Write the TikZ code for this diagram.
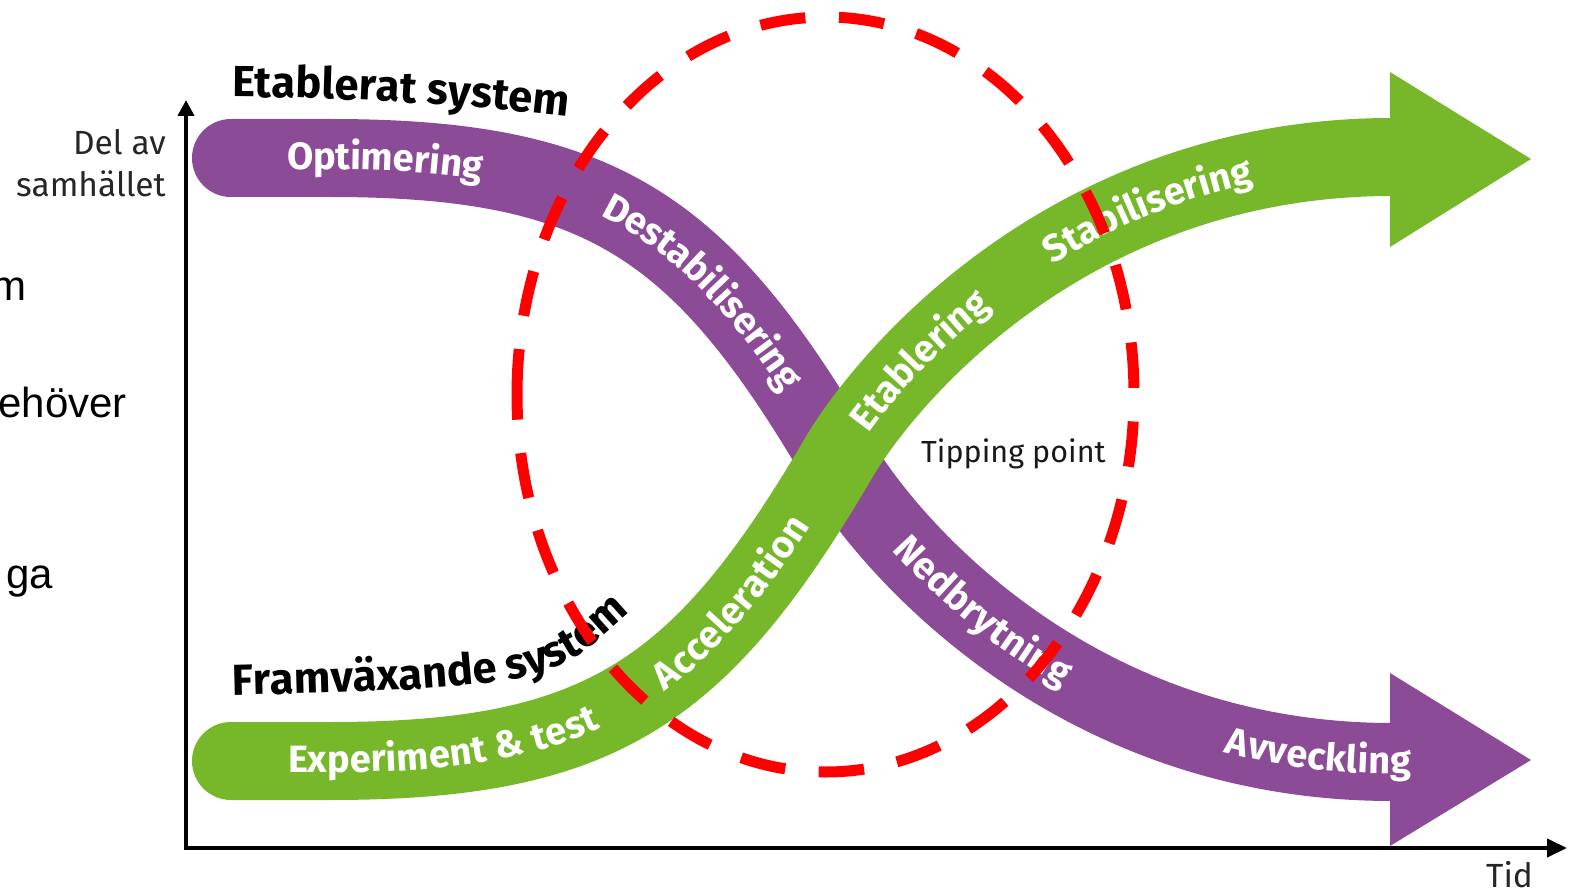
\documentclass[tikz,border=0pt]{standalone}
\usepackage{fontspec}
\setmainfont{Fira Sans}
\newfontfamily\arialfont{Liberation Sans}
\usetikzlibrary{decorations.text,arrows.meta}
\definecolor{bandpurple}{RGB}{139,75,150}
\definecolor{bandgreen}{RGB}{118,184,42}
\definecolor{dashred}{RGB}{255,0,0}
\newcommand{\bandlab}{\fontsize{38}{46}\selectfont\bfseries}
\newcommand{\headlab}{\fontsize{43.5}{50}\selectfont\bfseries}
\begin{document}
\begin{tikzpicture}[x=1pt,y=-1pt,
  band/.style={line width=78pt, line cap=round},
  bandlabel/.style 2 args={decorate, decoration={text along path, text color=white, raise=-11.5pt,
      text={|\bandlab|#1}, text align={left indent=#2pt}}},
  headlabel/.style={decorate, decoration={text along path, text color=black,
      text={|\headlab|#1}}},
  axislabel/.style={font=\fontsize{33.5}{40}\selectfont, text=black!85, inner sep=0pt},
  cuttext/.style={font=\arialfont\fontsize{42}{48}\selectfont, text=black, inner sep=0pt, anchor=base east},
  axisline/.style={line width=4pt, black},
  circlestyle/.style={line width=11pt, dashred, dash pattern=on 45.5pt off 33.6pt, dash phase=0pt}
]
\useasboundingbox (0,0) rectangle (1574,893);

% left cut-off text
\node[cuttext] (cutm) at (27,301) {m};
\node[cuttext] (cuthov) at (127,417) {ehöver};
\node[cuttext] (cutga) at (53,588) {ga};

% purple band (established system)
\draw[band, bandpurple] (231,158) -- (330,158) .. controls (600,158) and (700,225) .. (838,460)
  .. controls (886,542) and (1070,762) .. (1392,762);
\fill[bandpurple] (1390,673) -- (1531,760) -- (1390,846) -- cycle;
\path[bandlabel={Optimering}{56}] (231,158) -- (330,158) .. controls (600,158) and (700,225) .. (838,460)
  .. controls (886,542) and (1070,762) .. (1392,762) -- (1540,762);
\path[bandlabel={Destabilisering}{381}] (231,158) -- (330,158) .. controls (600,158) and (700,225) .. (838,460)
  .. controls (886,542) and (1070,762) .. (1392,762) -- (1540,762);
\path[bandlabel={Nedbrytning}{834}] (231,158) -- (330,158) .. controls (600,158) and (700,225) .. (838,460)
  .. controls (886,542) and (1070,762) .. (1392,762) -- (1540,762);
\path[bandlabel={Avveckling}{1222}] (231,158) -- (330,158) .. controls (600,158) and (700,225) .. (838,460)
  .. controls (886,542) and (1070,762) .. (1392,762) -- (1540,762);

% green band (emerging system)
\draw[band, bandgreen] (231,761) -- (330,761) .. controls (600,761) and (700,694) .. (838,459)
  .. controls (886,377) and (1070,157) .. (1392,157);
\fill[bandgreen] (1390,72) -- (1531,159) -- (1390,247) -- cycle;
\path[bandlabel={Experiment {\&} test}{57}] (231,761) -- (330,761) .. controls (600,761) and (700,694) .. (838,459)
  .. controls (886,377) and (1070,157) .. (1392,157) -- (1540,157);
\path[bandlabel={Acceleration}{442}] (231,761) -- (330,761) .. controls (600,761) and (700,694) .. (838,459)
  .. controls (886,377) and (1070,157) .. (1392,157) -- (1540,157);
\path[bandlabel={Etablering}{770}] (231,761) -- (330,761) .. controls (600,761) and (700,694) .. (838,459)
  .. controls (886,377) and (1070,157) .. (1392,157) -- (1540,157);
\path[bandlabel={Stabilisering}{1026}] (231,761) -- (330,761) .. controls (600,761) and (700,694) .. (838,459)
  .. controls (886,377) and (1070,157) .. (1392,157) -- (1540,157);

% headings
\path[headlabel={Etablerat system}] (232,97) .. controls (380,98) and (520,106) .. (720,138);
\path[headlabel={Framväxande system}] plot[smooth] coordinates {(232,695) (400,690) (495,682) (545,671) (583,652) (613,627) (645,597) (700,540)};

% axes
\coordinate (ytop) at (186,100);
\coordinate (origin) at (186,848);
\coordinate (xend) at (1567,848);
\draw[axisline, {Triangle[length=16pt,width=16pt]}-{Triangle[length=20pt,width=18pt]}] (ytop) -- (origin) -- (xend);
\node[axislabel, anchor=base east] (delav) at (166,155) {Del av};
\node[axislabel, anchor=base east] (samh) at (166,197) {samhället};
\node[axislabel, anchor=base west] (tid) at (1486,887) {Tid};

% tipping point
\node[font=\fontsize{30.5}{36}\selectfont, text=black!90, inner sep=0pt, anchor=base west] (tipping) at (921,462) {Tipping point};

% red dashed ellipse, starting at its leftmost point, running clockwise
\draw[circlestyle] (517,394.5) arc[start angle=180, end angle=540, x radius=308.5, y radius=377.5];
\end{tikzpicture}
\end{document}
